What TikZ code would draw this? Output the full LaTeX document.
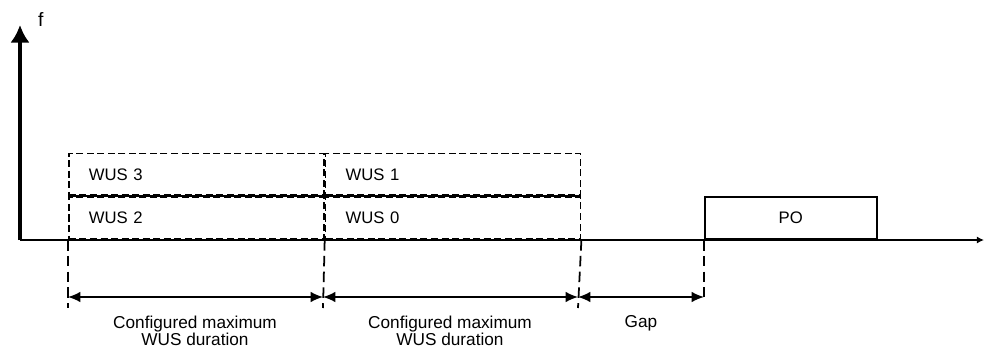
\documentclass[tikz,border=0pt]{standalone}
\usepackage{fontspec}
\setmainfont{Liberation Sans}
\usetikzlibrary{arrows.meta,positioning,calc}

\begin{document}
\begin{tikzpicture}[x=0.02cm, y=-0.02cm,
    wus/.style={draw, dash pattern=on 4pt off 2pt, line width=1pt, minimum height=0.84cm, text width=4.3cm, inner xsep=0.4cm, align=left, font=\fontsize{9.5}{11}\selectfont},
    po/.style={draw, line width=0.9pt, minimum width=3.44cm, minimum height=0.84cm, font=\fontsize{9.5}{11}\selectfont},
    marker/.style={dash pattern=on 6pt off 3pt, line width=1pt},
    durarr/.style={{Latex[length=7pt,width=6pt]}-{Latex[length=7pt,width=6pt]}, line width=0.9pt},
    durlabel/.style={font=\fontsize{9.8}{9.5}\selectfont, align=center}
  ]
    \useasboundingbox (0,0) rectangle (985,349);
    % axes
    \coordinate (o) at (20,240);
    \coordinate (ytop) at (20,25);
    \coordinate (xend) at (984,240);
    \draw[line width=2pt, -{Latex[length=10pt,width=11pt]}] (o) -- (ytop);
    \draw[line width=0.9pt, -{Latex[length=4pt,width=4pt]}] (o) -- (xend);
    \node[anchor=west, font=\fontsize{11}{12}\selectfont] (flab) at (32,20) {f};
    % WUS resources
    \node[wus, anchor=south west] (w2) at (68,240) {WUS 2};
    \node[wus, anchor=south west] (w3) at (w2.north west) {WUS 3};
    \node[wus, anchor=south west] (w0) at (w2.south east) {WUS 0};
    \node[wus, anchor=south west] (w1) at (w0.north west) {WUS 1};
    \draw[line width=1pt] (w3.south west) -- (w1.south east);
    \node[po, anchor=south west] (po) at (704,240) {PO};
    % time markers
    \coordinate (d0) at (68,308);
    \coordinate (d1) at (323,308);
    \coordinate (d2) at (578,308);
    \coordinate (d3) at (704,297);
    \draw[marker] (w2.south west) -- (d0);
    \draw[marker] (w2.south east) -- (d1);
    \draw[marker] (w0.south east) -- (d2);
    \draw[marker] (po.south west) -- (d3);
    \coordinate (a0) at (68,297);
    \coordinate (a1) at (323,297);
    \coordinate (a2) at (578,297);
    \draw[durarr] (a0) -- (a1);
    \draw[durarr] (a1) -- (a2);
    \draw[durarr] (a2) -- (d3);
    \node[durlabel] (lab0) at (195,331) {Configured maximum\\WUS duration};
    \node[durlabel] (lab1) at (450,331) {Configured maximum\\WUS duration};
    \node[durlabel] (lab2) at (641,323) {Gap};
  \end{tikzpicture}
\end{document}
